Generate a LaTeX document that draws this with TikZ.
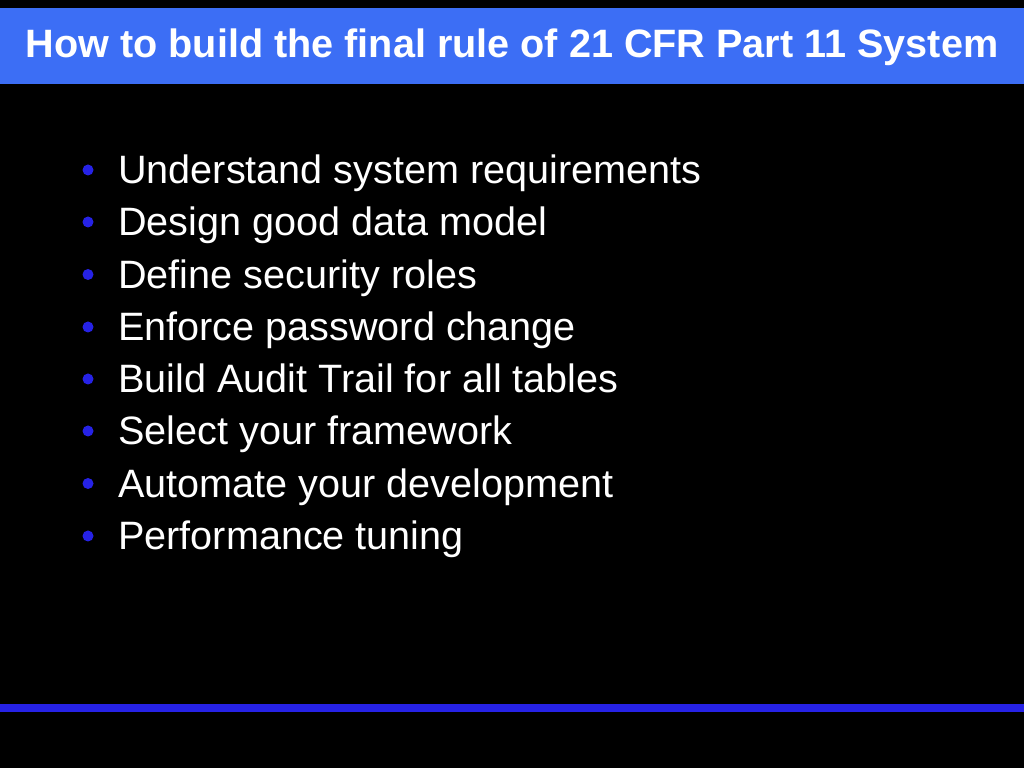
\documentclass[tikz,border=0pt]{standalone}
\usepackage{fontspec}
\setmainfont{Liberation Sans}
\usepackage{tikz}
\definecolor{titleblue}{RGB}{60,110,245}
\definecolor{bulletblue}{RGB}{38,34,230}
\definecolor{white}{RGB}{255,255,255}

\begin{document}
\begin{tikzpicture}[x=1pt, y=1pt,
	item/.style={anchor=base west, inner sep=0pt, color=white, font=\fontsize{39.6}{42}\selectfont},
	dot/.style={circle, fill=bulletblue, inner sep=0pt, minimum size=11pt}]
	\useasboundingbox (0,0) rectangle (1024,768);
	\fill[black] (0,0) rectangle (1024,768);
	\fill[titleblue] (0,684) rectangle (1024,760);
	\fill[bulletblue] (0,56) rectangle (1024,64);
	\node[anchor=base, inner sep=0pt, color=white, font=\fontsize{39.6}{42}\selectfont\bfseries] (title) at (512,710) {How to build the final rule of 21 CFR Part 11 System};
	
	\node[item] (1) at (118,584) {Understand system requirements};
	\node[item] (2) at (118,532) {Design good data model};
	\node[item] (3) at (118,479.5) {Define security roles};
	\node[item] (4) at (118,427) {Enforce password change};
	\node[item] (5) at (118,375) {Build Audit Trail for all tables};
	\node[item] (6) at (118,323) {Select your framework};
	\node[item] (7) at (118,270.5) {Automate your development};
	\node[item] (8) at (118,218) {Performance tuning};
	
	% bullets
	\foreach \i in {1,...,8}
		\node[dot] (b\i) at ([xshift=-30pt, yshift=14pt]\i.base west) {};
\end{tikzpicture}
\end{document}
